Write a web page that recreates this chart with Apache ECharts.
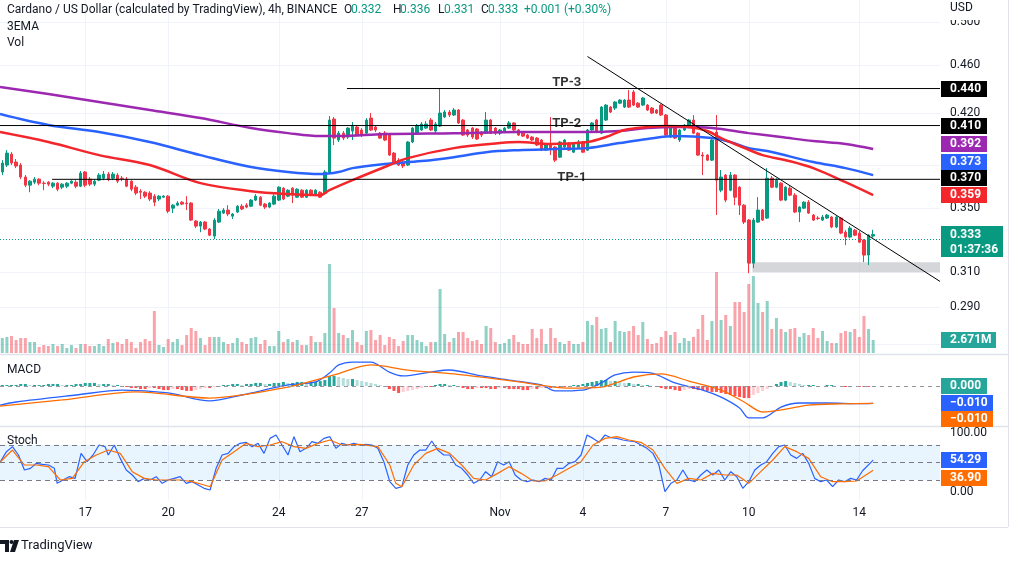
<!DOCTYPE html>
<html><head><meta charset="utf-8">
<script src="https://cdn.jsdelivr.net/npm/echarts@6/dist/echarts.min.js"></script>
<style>html,body{margin:0;padding:0;background:#fff}#c{width:1018px;height:561px}</style>
</head><body><div id="c"></div>
<script>
// ---------- data ----------
const categories = Array.from({length: 204}, (_, i) => i);
const tickIdx  = [18, 36, 60, 78, 108, 126, 144, 162, 186];
const tickText = ['17', '20', '24', '27', 'Nov', '4', '7', '10', '14'];
const priceTicks = [0.5, 0.46, 0.42, 0.38, 0.35, 0.31, 0.29, 0.27];
const stochTicks = [100, 0];
// [open, close, low, high]
const candles = [
[0.3752,0.3817,0.3730,0.3838],[0.3802,0.3890,0.3788,0.3912],[0.3882,0.3817,0.3802,0.3897],[0.3824,0.3795,0.3780,0.3846],
[0.3802,0.3716,0.3701,0.3817],[0.3716,0.3659,0.3645,0.3730],[0.3659,0.3687,0.3610,0.3694],[0.3680,0.3701,0.3666,0.3716],
[0.3701,0.3673,0.3659,0.3708],[0.3673,0.3670,0.3624,0.3687],[0.3680,0.3666,0.3652,0.3687],[0.3652,0.3673,0.3638,0.3680],
[0.3673,0.3631,0.3617,0.3680],[0.3645,0.3666,0.3631,0.3673],[0.3652,0.3673,0.3638,0.3680],[0.3673,0.3687,0.3666,0.3694],
[0.3680,0.3652,0.3638,0.3694],[0.3652,0.3744,0.3645,0.3759],[0.3752,0.3659,0.3645,0.3759],[0.3701,0.3666,0.3652,0.3716],
[0.3666,0.3687,0.3652,0.3701],[0.3694,0.3730,0.3687,0.3744],[0.3708,0.3737,0.3694,0.3759],[0.3737,0.3701,0.3687,0.3752],
[0.3708,0.3737,0.3694,0.3752],[0.3730,0.3687,0.3673,0.3744],[0.3708,0.3706,0.3687,0.3723],[0.3701,0.3652,0.3645,0.3716],
[0.3687,0.3631,0.3617,0.3694],[0.3645,0.3604,0.3590,0.3659],[0.3617,0.3610,0.3563,0.3631],[0.3610,0.3583,0.3570,0.3617],
[0.3604,0.3563,0.3549,0.3617],[0.3583,0.3542,0.3515,0.3597],[0.3563,0.3583,0.3549,0.3590],[0.3576,0.3583,0.3570,0.3590],
[0.3583,0.3482,0.3469,0.3590],[0.3502,0.3522,0.3469,0.3529],[0.3522,0.3536,0.3515,0.3549],[0.3542,0.3529,0.3522,0.3549],
[0.3536,0.3532,0.3489,0.3583],[0.3536,0.3423,0.3417,0.3542],[0.3417,0.3384,0.3371,0.3423],[0.3384,0.3410,0.3345,0.3417],
[0.3410,0.3365,0.3358,0.3417],[0.3365,0.3326,0.3320,0.3371],[0.3320,0.3423,0.3301,0.3436],[0.3410,0.3482,0.3404,0.3496],
[0.3469,0.3489,0.3463,0.3502],[0.3489,0.3463,0.3449,0.3522],[0.3449,0.3463,0.3430,0.3469],[0.3476,0.3515,0.3469,0.3522],
[0.3515,0.3496,0.3489,0.3529],[0.3522,0.3509,0.3502,0.3536],[0.3515,0.3556,0.3509,0.3563],[0.3556,0.3583,0.3549,0.3597],
[0.3576,0.3522,0.3515,0.3583],[0.3529,0.3509,0.3496,0.3536],[0.3509,0.3536,0.3502,0.3542],[0.3529,0.3583,0.3522,0.3597],
[0.3556,0.3645,0.3549,0.3652],[0.3638,0.3563,0.3556,0.3645],[0.3583,0.3624,0.3576,0.3631],[0.3638,0.3590,0.3536,0.3645],
[0.3576,0.3631,0.3570,0.3638],[0.3624,0.3576,0.3570,0.3631],[0.3576,0.3624,0.3570,0.3631],[0.3624,0.3590,0.3583,0.3631],
[0.3590,0.3624,0.3583,0.3631],[0.3610,0.3576,0.3570,0.3617],[0.3604,0.3752,0.3597,0.3766],[0.3744,0.4143,0.3737,0.4175],
[0.4151,0.4003,0.3950,0.4167],[0.3988,0.4041,0.3973,0.4057],[0.4041,0.4003,0.3988,0.4057],[0.4011,0.4080,0.3996,0.4088],
[0.4057,0.4096,0.3988,0.4127],[0.4088,0.4026,0.4018,0.4096],[0.4065,0.4026,0.4011,0.4080],[0.4041,0.4143,0.4034,0.4159],
[0.4159,0.4065,0.4057,0.4199],[0.4088,0.4065,0.4049,0.4096],[0.4041,0.4003,0.3996,0.4049],[0.4041,0.3988,0.3980,0.4057],
[0.4026,0.3875,0.3868,0.4034],[0.3890,0.3817,0.3809,0.3897],[0.3838,0.3802,0.3795,0.3853],[0.3817,0.3795,0.3780,0.3831],
[0.3802,0.3973,0.3795,0.3980],[0.3973,0.4080,0.3965,0.4088],[0.4041,0.4096,0.4034,0.4112],[0.4065,0.4112,0.4057,0.4127],
[0.4080,0.4112,0.4073,0.4135],[0.4143,0.4065,0.4057,0.4159],[0.4057,0.4112,0.4041,0.4127],[0.4096,0.4199,0.4088,0.4404],
[0.4167,0.4207,0.4159,0.4223],[0.4207,0.4183,0.4167,0.4223],[0.4183,0.4223,0.4175,0.4239],[0.4223,0.4120,0.4112,0.4231],
[0.4143,0.4026,0.4018,0.4151],[0.4065,0.4026,0.4011,0.4073],[0.4080,0.4011,0.3996,0.4088],[0.4073,0.3996,0.3988,0.4080],
[0.4049,0.4026,0.4011,0.4057],[0.4041,0.4143,0.4034,0.4207],[0.4143,0.4041,0.4034,0.4151],[0.4080,0.4041,0.4026,0.4088],
[0.4041,0.4065,0.4026,0.4073],[0.4049,0.4080,0.4041,0.4088],[0.4080,0.4120,0.4073,0.4135],[0.4120,0.4065,0.4057,0.4127],
[0.4065,0.4026,0.4018,0.4073],[0.4041,0.4018,0.4011,0.4049],[0.4026,0.4003,0.3996,0.4034],[0.4011,0.3988,0.3980,0.4018],
[0.4003,0.3950,0.3942,0.4011],[0.3988,0.3912,0.3905,0.3996],[0.3912,0.3950,0.3905,0.3958],[0.3950,0.3927,0.3875,0.4167],
[0.3935,0.3838,0.3824,0.3942],[0.3860,0.3973,0.3853,0.3980],[0.3935,0.3988,0.3927,0.3996],[0.3965,0.3912,0.3905,0.3973],
[0.3897,0.3965,0.3890,0.3973],[0.3927,0.3973,0.3920,0.3988],[0.3973,0.3897,0.3890,0.3980],[0.3912,0.4065,0.3905,0.4073],
[0.4065,0.4120,0.4057,0.4127],[0.4143,0.4049,0.4041,0.4151],[0.4041,0.4247,0.4034,0.4255],[0.4143,0.4263,0.4135,0.4271],
[0.4247,0.4207,0.4199,0.4255],[0.4239,0.4288,0.4223,0.4296],[0.4279,0.4304,0.4271,0.4312],[0.4247,0.4304,0.4239,0.4312],
[0.4304,0.4247,0.4239,0.4387],[0.4371,0.4263,0.4255,0.4387],[0.4279,0.4247,0.4239,0.4288],[0.4263,0.4321,0.4255,0.4329],
[0.4263,0.4223,0.4215,0.4271],[0.4239,0.4199,0.4191,0.4247],[0.4223,0.4199,0.4191,0.4231],[0.4263,0.4183,0.4175,0.4271],
[0.4183,0.4026,0.4018,0.4191],[0.4011,0.4088,0.4003,0.4096],[0.4080,0.4003,0.3996,0.4088],[0.3988,0.4065,0.3973,0.4073],
[0.4065,0.4104,0.4057,0.4112],[0.4088,0.4143,0.4080,0.4151],[0.4143,0.4041,0.4034,0.4183],[0.4041,0.3875,0.3868,0.4049],
[0.3875,0.3868,0.3730,0.3897],[0.3875,0.3838,0.3831,0.3882],[0.3838,0.3988,0.3831,0.3996],[0.4049,0.3694,0.3456,0.4183],
[0.3624,0.3716,0.3610,0.3766],[0.3730,0.3556,0.3542,0.3737],[0.3624,0.3730,0.3617,0.3752],[0.3730,0.3576,0.3522,0.3737],
[0.3645,0.3522,0.3456,0.3652],[0.3522,0.3410,0.3397,0.3529],[0.3423,0.3153,0.3093,0.3430],[0.3153,0.3423,0.3123,0.3436],
[0.3410,0.3489,0.3404,0.3576],[0.3489,0.3423,0.3417,0.3496],[0.3436,0.3708,0.3430,0.3780],[0.3708,0.3645,0.3638,0.3723],
[0.3645,0.3694,0.3638,0.3708],[0.3673,0.3556,0.3549,0.3680],[0.3556,0.3645,0.3549,0.3652],[0.3638,0.3590,0.3583,0.3652],
[0.3590,0.3476,0.3469,0.3604],[0.3476,0.3509,0.3410,0.3515],[0.3502,0.3542,0.3496,0.3549],[0.3542,0.3469,0.3463,0.3556],
[0.3456,0.3423,0.3417,0.3463],[0.3436,0.3433,0.3423,0.3449],[0.3423,0.3443,0.3417,0.3456],[0.3436,0.3456,0.3430,0.3463],
[0.3443,0.3378,0.3371,0.3449],[0.3378,0.3443,0.3371,0.3449],[0.3436,0.3339,0.3332,0.3443],[0.3345,0.3314,0.3263,0.3358],
[0.3314,0.3371,0.3307,0.3384],[0.3358,0.3326,0.3320,0.3365],[0.3339,0.3282,0.3276,0.3352],[0.3295,0.3202,0.3159,0.3301],
[0.3202,0.3326,0.3141,0.3332],[0.332,0.333,0.331,0.336]
];
// volume, millions
const volumes = [
3.08,3.29,3.49,2.67,3.08,3.08,2.26,2.26,1.23,1.64,1.44,1.85,1.44,1.85,1.03,1.64,1.03,1.85,1.85,1.44,
1.44,1.85,1.44,2.88,2.06,2.26,1.85,2.88,2.26,1.03,2.26,2.88,2.47,8.63,1.64,1.23,2.88,2.26,2.88,1.64,
3.70,5.14,4.52,3.08,1.64,3.29,3.29,3.29,2.26,1.85,2.06,3.08,2.26,1.85,3.08,3.29,1.85,2.67,1.44,1.44,
4.52,2.26,2.88,2.26,2.67,1.64,1.64,3.49,2.26,2.26,4.11,18.29,9.25,4.11,3.70,3.08,4.73,2.26,1.64,4.52,
4.73,2.67,3.70,1.64,3.29,2.88,1.44,2.47,3.70,3.70,2.67,2.26,1.44,2.26,2.26,13.15,3.90,2.26,3.08,4.32,
4.32,3.08,2.47,2.67,1.85,5.55,5.14,2.26,1.85,2.06,2.88,3.70,2.26,1.85,1.85,4.93,3.08,4.93,1.85,5.14,
3.08,2.26,1.85,2.47,1.85,1.85,2.26,6.58,5.75,7.40,4.93,5.14,2.26,6.58,4.52,4.32,4.52,5.55,3.70,6.37,
2.88,1.85,2.06,3.29,4.52,3.70,4.32,2.06,3.08,2.47,3.29,4.93,7.81,2.67,6.58,16.65,6.78,7.81,5.55,10.48,
10.48,8.43,14.18,15.82,10.28,8.43,10.69,4.93,7.19,4.93,4.32,4.93,5.14,3.29,4.11,3.70,5.14,3.08,4.52,2.47,
2.06,2.06,4.11,4.52,4.32,4.93,3.29,7.60,4.93,2.671
];
// EMA lines [candle index, price]
const emaRed = [[-0.5,0.4049],[10,0.3973],[21,0.3875],[32,0.3802],[43,0.3673],[54,0.3617],[62,0.3597],[69,0.3590],[71,0.3624],[76,0.3694],[83,0.3788],[88,0.3853],[98,0.3927],[108,0.3965],[112,0.3973],[119,0.3958],[127,0.3973],[131,0.4011],[135,0.4065],[140,0.4088],[144,0.4096],[149,0.4088],[153,0.4057],[156,0.4003],[159,0.3958],[162,0.3915],[165,0.3875],[171,0.3830],[176,0.3780],[183,0.3680],[189,0.3590]];
const emaBlue = [[-0.5,0.4191],[10,0.4104],[21,0.4049],[32,0.3973],[43,0.3875],[54,0.3788],[62,0.3752],[69,0.3737],[73,0.3752],[76,0.3780],[83,0.3809],[91,0.3831],[98,0.3860],[105,0.3897],[112,0.3912],[120,0.3920],[127,0.3927],[134,0.3965],[140,0.3996],[146,0.4018],[154,0.4003],[158,0.3973],[162,0.3927],[166,0.3905],[176,0.3824],[183,0.3780],[189,0.3730]];
const emaPurple = [[-0.5,0.4413],[10,0.4354],[21,0.4288],[32,0.4223],[43,0.4159],[54,0.4080],[62,0.4041],[69,0.4018],[73,0.4018],[83,0.4034],[98,0.4041],[112,0.4049],[127,0.4049],[134,0.4057],[140,0.4080],[147,0.4088],[154,0.4080],[162,0.4041],[169,0.4011],[176,0.3980],[183,0.3958],[189,0.3920]];
// target levels
const tpNames  = ['TP-3', 'TP-2', 'TP-1'];
const tpLevels = [0.44, 0.41, 0.37];
const tpStart  = [74.8, -0.5, 10.8];
const tpLabelAt = [[122.5, 0.4446], [122.5, 0.4112], [123.6, 0.3709]];
const trendLine = [[127, 0.4677], [203.5, 0.3045]];
const supportZone = [[162.8, 0.3159], [203.5, 0.3099]];
const lastPrice = 0.333, countdown = '01:37:36';
// MACD
const macdHist = [
0.0006,0.0006,0.0006,0.0006,0.0012,0.0012,0.0006,0.0006,0.0006,0.0006,0.0012,0.0012,0.0012,0.0006,0.0006,0.0006,0.0012,
0.0012,0.0018,0.0018,0.0018,0.0012,0.0012,0.0012,0.0006,0.0006,0,
-0.0006,-0.0012,-0.0012,-0.0018,-0.0018,-0.0012,-0.0012,-0.0018,-0.0024,-0.0024,-0.0018,-0.0018,-0.0024,-0.0029,-0.0029,-0.0024,-0.0018,-0.0012,-0.0012,-0.0006,-0.0006,
0.0006,0.0006,0.0012,0.0012,0.0006,0.0012,0.0012,0.0018,0.0018,0.0012,0.0012,0.0018,0.0018,0.0024,0.0018,0.0018,0.0024,0.0024,0.0018,0.0018,0.0024,
0.0029,0.0035,0.0059,0.0059,0.0053,0.0047,0.0041,
0.0041,0.0035,0.0029,0.0024,0.0018,0.0012,0.0006,
-0.0006,-0.0018,-0.0029,-0.0041,-0.0035,-0.0029,-0.0024,-0.0018,-0.0012,-0.0006,-0.0006,
0.0006,0.0012,0.0012,0.0006,0.0006,
-0.0006,-0.0012,-0.0018,-0.0018,-0.0012,-0.0012,-0.0012,-0.0018,-0.0018,-0.0012,-0.0012,-0.0018,-0.0018,-0.0018,-0.0024,-0.0024,-0.0018,-0.0018,-0.0012,-0.0012,
-0.0012,-0.0006,-0.0006,-0.0006,0,0.0006,0.0006,0.0012,
0.0018,0.0024,0.0029,0.0035,0.0035,0.0029,0.0029,0.0024,0.0018,0.0018,0.0012,
0.0012,0.0006,0.0006,0,
-0.0006,-0.0012,-0.0018,-0.0018,-0.0024,-0.0029,-0.0024,-0.0018,-0.0018,-0.0024,
-0.0024,-0.0029,-0.0035,-0.0035,-0.0041,-0.0047,-0.0053,-0.0059,-0.0065,-0.0071,-0.0071,-0.0053,-0.0041,-0.0029,-0.0018,-0.0006,
0.0012,0.0024,0.0029,0.0024,0.0018,0.0012,
0.0006,0.0006,0.0006,0,0,0.0006,0.0006,0,0,-0.0006,0,0,-0.0006,-0.0006,-0.0006,0
];
const macdLine = [[-0.5,-0.0112],[3,-0.0094],[16,-0.0053],[26,-0.0024],[36,-0.0041],[45,-0.0088],[52,-0.0053],[62,0.0006],[68,0.0024],[71,0.0076],[73,0.0124],[76,0.0141],[80,0.0141],[84,0.0082],[87,0.0059],[93,0.0082],[97,0.0094],[104,0.0059],[110,0.0035],[117,0.0006],[120,-0.0029],[126,-0.0024],[130,0.0018],[133,0.0065],[137,0.0082],[141,0.0076],[146,0.0018],[152,-0.0024],[156,-0.0065],[160,-0.0129],[162,-0.0188],[165,-0.0188],[169,-0.0124],[173,-0.0100],[179,-0.0100],[186,-0.0104],[189,-0.0102]];
const macdSignal = [[-0.5,-0.0118],[13,-0.0082],[29,-0.0035],[45,-0.0071],[62,-0.0006],[72,0.0065],[80,0.0124],[88,0.0094],[98,0.0071],[111,0.0029],[123,-0.0012],[130,-0.0006],[137,0.0053],[143,0.0071],[149,0.0029],[156,-0.0024],[161,-0.0094],[165,-0.0153],[169,-0.0141],[175,-0.0112],[182,-0.0105],[189,-0.0102]];
// Stochastic
const stochK = [[-0.4,51.5],[0.9,68.7],[2.2,77.3],[3.5,63.0],[4.8,37.2],[6.1,40.1],[7.4,48.7],[8.7,46.9],[10.0,45.8],[11.3,40.1],[11.9,14.4],[13.2,20.1],[14.5,25.8],[15.8,22.9],[17.1,65.8],[18.4,51.5],[19.7,63.0],[21.0,80.1],[22.3,77.3],[23.0,63.0],[24.3,80.1],[25.6,57.2],[26.9,37.2],[28.2,28.7],[29.5,17.2],[30.8,22.9],[32.1,20.1],[33.4,25.8],[34.7,14.4],[36.0,20.1],[37.3,22.9],[38.6,25.8],[39.9,14.4],[41.2,17.2],[42.5,11.5],[43.8,5.8],[45.1,2.9],[46.4,40.1],[47.7,63.0],[49.0,65.8],[50.3,77.3],[51.6,83.0],[52.9,84.7],[54.2,77.3],[55.5,83.0],[56.8,65.8],[58.1,91.5],[59.4,97.3],[60.7,80.1],[62.0,63.0],[63.3,94.4],[64.6,68.7],[65.9,74.4],[67.2,85.8],[68.5,83.0],[69.8,91.5],[71.1,94.4],[72.4,74.4],[73.7,83.0],[75.0,80.1],[76.3,83.0],[77.6,80.1],[78.9,81.3],[80.2,80.1],[81.5,74.4],[82.8,51.5],[84.1,17.2],[85.4,5.8],[86.7,8.6],[88.0,45.8],[89.3,63.0],[90.6,71.5],[91.9,71.5],[93.2,87.0],[94.5,71.5],[95.8,63.0],[97.1,63.0],[98.4,45.8],[99.7,40.1],[101.0,28.7],[102.3,14.4],[103.6,20.1],[104.9,34.4],[106.2,25.8],[107.5,51.5],[108.8,45.8],[110.0,51.5],[111.3,28.7],[112.6,20.1],[113.9,17.2],[115.2,20.1],[116.5,17.2],[117.8,22.9],[119.1,20.1],[120.4,40.1],[121.7,40.1],[123.0,48.7],[124.3,51.5],[125.6,63.0],[126.9,97.3],[128.2,91.5],[129.5,84.7],[130.8,97.3],[132.1,92.7],[133.4,91.5],[134.7,88.7],[136.0,87.0],[137.3,85.8],[138.6,80.1],[139.9,74.4],[141.2,65.8],[142.5,45.8],[143.8,0.1],[145.1,14.4],[146.4,20.1],[147.7,37.2],[149.0,20.1],[150.3,17.2],[151.6,28.7],[152.9,37.2],[154.2,28.7],[155.5,37.2],[156.8,20.1],[158.1,34.4],[159.4,25.8],[160.7,5.8],[162.0,17.2],[163.3,37.2],[164.6,45.8],[165.9,51.5],[167.2,65.8],[168.5,77.3],[169.8,80.1],[171.1,63.0],[172.4,57.2],[173.7,65.8],[175.0,48.7],[176.3,22.9],[177.6,17.2],[178.9,20.1],[180.2,8.6],[181.5,20.1],[182.8,17.2],[184.1,22.9],[185.4,20.1],[186.7,36.0],[189,54.29]];
const stochD = [[-0.4,51.5],[2.2,71.5],[4.8,45.8],[7.4,45.8],[10.0,42.9],[12.6,20.1],[15.2,22.9],[17.8,51.5],[20.4,63.0],[23.0,71.5],[25.6,65.8],[28.2,34.4],[30.8,22.9],[33.4,20.1],[36.0,20.1],[38.6,20.1],[41.2,17.2],[43.8,11.5],[45.1,8.6],[47.7,54.4],[50.3,68.7],[52.9,83.0],[55.5,77.3],[58.1,80.1],[60.7,85.8],[63.3,77.3],[65.9,74.4],[68.5,83.0],[71.1,88.7],[73.7,80.1],[77.6,81.3],[81.5,77.3],[84.1,45.8],[85.4,14.4],[86.7,8.6],[89.3,45.8],[91.9,65.8],[94.5,74.4],[97.1,65.8],[99.7,45.8],[102.3,22.9],[104.9,20.1],[107.5,31.5],[110.0,42.9],[112.6,31.5],[115.2,18.4],[117.8,18.4],[120.4,28.7],[123.0,40.1],[125.6,51.5],[128.2,80.1],[130.8,91.5],[133.4,94.4],[136.0,88.7],[138.6,84.7],[141.2,71.5],[143.8,40.1],[146.4,14.4],[149.0,22.9],[151.6,20.1],[154.2,31.5],[156.8,28.7],[159.4,28.7],[162.0,14.4],[164.6,34.4],[167.2,54.4],[169.8,77.3],[172.4,68.7],[175.0,57.2],[177.6,25.8],[180.2,17.2],[182.8,17.2],[185.4,18.4],[189,36.90]];

// ---------- style ----------
const FONT = 'Roboto, "Liberation Sans", Arial, sans-serif';
const GREEN = '#089981', RED = '#f23645';
const VUP = 'rgba(8,153,129,0.45)', VDN = 'rgba(242,54,69,0.45)';
const C_RED = '#f2262b', C_BLUE = '#2962ff', C_PURPLE = '#9c27b0', C_ORANGE = '#ff6d00';
const TXT = '#131722', GRID = '#f0f3fa';

const isUp = i => candles[i] ? candles[i][1] >= candles[i][0] : true;
const volData = volumes.map((v, i) => ({value: v, itemStyle: {color: isUp(i) ? VUP : VDN}}));
const histData = macdHist.map((v, i) => {
  const p = i > 0 ? macdHist[i - 1] : 0;
  let c;
  if (v >= 0) c = v >= p ? '#26a69a' : '#b2dfdb';
  else c = v <= p ? '#ff5252' : '#ffcdd2';
  return {value: v, itemStyle: {color: c}};
});

const lineS = (name, data, color, xi, yi, w, smooth) => ({
  name, type: 'line', data, xAxisIndex: xi, yAxisIndex: yi, symbol: 'none', smooth: smooth,
  lineStyle: {color, width: w}, silent: true, z: 4
});

const series = [
  {type: 'bar', data: volData, xAxisIndex: 2, yAxisIndex: 1, barWidth: 3, silent: true, z: 1},
  {type: 'candlestick', data: candles, xAxisIndex: 0, yAxisIndex: 0, barWidth: 3, z: 3,
   itemStyle: {color: GREEN, color0: RED, borderColor: GREEN, borderColor0: RED, borderWidth: 1},
   markLine: {silent: true, symbol: 'none', label: {show: false},
     lineStyle: {type: [1, 2], color: GREEN, width: 1}, data: [{yAxis: lastPrice}]}},
  lineS('emaPurple', emaPurple, C_PURPLE, 1, 0, 2.5, 0.35),
  lineS('emaBlue', emaBlue, C_BLUE, 1, 0, 2.5, 0.35),
  lineS('emaRed', emaRed, C_RED, 1, 0, 2.5, 0.35),
];
tpLevels.forEach((lv, k) => {
  series.push(lineS(tpNames[k], [[tpStart[k], lv], [203.5, lv]], '#000000', 1, 0, 1, false));
});
series.push(Object.assign(lineS('trend', trendLine, '#000000', 1, 0, 1, false), {
  markArea: {silent: true, itemStyle: {color: 'rgba(190,192,198,0.65)'},
    data: [[{coord: supportZone[0]}, {coord: supportZone[1]}]]}
}));
series.push({type: 'scatter', xAxisIndex: 1, yAxisIndex: 0, symbolSize: 0, silent: true, z: 6,
  data: tpLabelAt.map((p, k) => [p[0], p[1], tpNames[k]]),
  label: {show: true, position: 'inside', formatter: p => p.value[2], color: '#000', fontWeight: 'bold', fontSize: 13, fontFamily: FONT}});
series.push({type: 'bar', data: histData, xAxisIndex: 3, yAxisIndex: 2, barWidth: 3, silent: true, z: 2,
  markLine: {silent: true, symbol: 'none', label: {show: false},
    lineStyle: {type: [4, 4], color: '#9598a1', width: 1}, data: [{yAxis: 0}]}});
series.push(lineS('macd', macdLine, C_BLUE, 4, 2, 1.3, 0.3));
series.push(lineS('signal', macdSignal, C_ORANGE, 4, 2, 1.3, 0.3));
series.push(Object.assign(lineS('k', stochK, C_BLUE, 5, 3, 1.2, false), {
  markArea: {silent: true, itemStyle: {color: 'rgba(33,150,243,0.1)'},
    data: [[{coord: [-0.5, 20]}, {coord: [203.5, 80]}]]},
  markLine: {silent: true, symbol: 'none', label: {show: false},
    lineStyle: {type: [5, 4], color: '#787b86', width: 1}, data: [{yAxis: 80}, {yAxis: 50}, {yAxis: 20}]}
}));
series.push(lineS('d', stochD, C_ORANGE, 5, 3, 1.2, false));

const option = {
  animation: false,
  backgroundColor: '#ffffff',
  textStyle: {fontFamily: FONT},
  grid: [
    {left: 0, right: 78, top: 0, height: 354},
    {left: 0, right: 78, top: 263, height: 90},
    {left: 0, right: 78, top: 356, height: 70},
    {left: 0, right: 78, top: 428, height: 72}
  ],
  xAxis: [
    {type: 'category', gridIndex: 0, data: categories, show: false},
    {type: 'value', gridIndex: 0, min: -0.5, max: 203.5, show: false},
    {type: 'category', gridIndex: 1, data: categories, show: false},
    {type: 'category', gridIndex: 2, data: categories, show: false},
    {type: 'value', gridIndex: 2, min: -0.5, max: 203.5, show: false},
    {type: 'value', gridIndex: 3, min: -0.5, max: 203.5, show: false}
  ],
  yAxis: [
    {type: 'log', gridIndex: 0, min: 0.2651, max: 0.5210, show: false},
    {type: 'value', gridIndex: 1, min: 0, max: 18.5, show: false},
    {type: 'value', gridIndex: 2, min: -0.02353, max: 0.01765, show: false},
    {type: 'value', gridIndex: 3, min: -14.2, max: 109.3, show: false}
  ],
  series
};

const chart = echarts.init(document.getElementById('c'));
chart.setOption(option);

// ---------- decorations placed through the axes ----------
const yP = v => chart.convertToPixel({yAxisIndex: 0}, v);
const yV = v => chart.convertToPixel({yAxisIndex: 1}, v);
const yM = v => chart.convertToPixel({yAxisIndex: 2}, v);
const yS = v => chart.convertToPixel({yAxisIndex: 3}, v);
const xI = i => chart.convertToPixel({xAxisIndex: 1}, i);
const g = [];
const txt = (x, y, text, o, z) => g.push({type: 'text', z: z || 100, silent: true,
  style: Object.assign({x, y, text, fill: TXT, font: '12px ' + FONT, verticalAlign: 'middle', textVerticalAlign: 'middle'}, o || {})});
const hline = (y, x1, x2, color, w, z) => g.push({type: 'line', z: z || 0, silent: true,
  shape: {x1, y1: Math.round(y) + 0.5, x2, y2: Math.round(y) + 0.5}, style: {stroke: color, lineWidth: w || 1}});
const vline = (x, y1, y2, color) => g.push({type: 'line', z: 0, silent: true,
  shape: {x1: Math.round(x) + 0.5, y1, x2: Math.round(x) + 0.5, y2}, style: {stroke: color, lineWidth: 1}});
const box = (cy, text, bg, w) => {
  g.push({type: 'rect', z: 110, silent: true, shape: {x: 941, y: Math.round(cy - 8), width: w || 46, height: 16}, style: {fill: bg}});
  txt(950, cy, text, {fill: '#ffffff', font: 'bold 12px ' + FONT}, 111);
};

// grid lines
priceTicks.forEach(v => hline(yP(v), 0, 940, GRID, 1, 0));
tickIdx.forEach(i => vline(xI(i), 0, 500, GRID));
// pane separators and borders
hline(354, 0, 1008, '#e0e3eb', 1.5, 50);
hline(426, 0, 1008, '#e0e3eb', 1.5, 50);
hline(527, 0, 1008, '#e0e3eb', 1, 50);
vline(1008, 0, 527, '#e0e3eb');

// axis labels
priceTicks.forEach(v => txt(950, yP(v), v.toFixed(3)));
g.push({type: 'rect', z: 105, silent: true, shape: {x: 941, y: 0, width: 66, height: 20}, style: {fill: '#ffffff'}});
txt(950, 8, 'USD', {}, 106);
stochTicks.forEach(v => txt(950, yS(v), v.toFixed(2)));
tickIdx.forEach((i, k) => txt(xI(i), 513, tickText[k], {align: 'center', textAlign: 'center'}));

// legends / header
txt(7, 10, 'Cardano / US Dollar (calculated by TradingView), 4h, BINANCE');
const ohlc = candles[candles.length - 1];
const hdr = [[344, 'O', TXT], [351, ohlc[0].toFixed(3), GREEN], [393, 'H', TXT], [400, ohlc[3].toFixed(3), GREEN],
             [438, 'L', TXT], [444, ohlc[2].toFixed(3), GREEN], [481, 'C', TXT], [488, ohlc[1].toFixed(3), GREEN],
             [524, '+0.001 (+0.30%)', GREEN]];
hdr.forEach(h => txt(h[0], 10, h[1], {fill: h[2]}));
txt(7, 27, '3EMA');
txt(7, 43, 'Vol');
txt(7, 370, 'MACD');
txt(7, 441, 'Stoch');

// right-hand value boxes
const last = a => a[a.length - 1][1];
box(yP(tpLevels[0]), tpLevels[0].toFixed(3), '#000000');
box(yP(tpLevels[1]), tpLevels[1].toFixed(3), '#000000');
box(yP(last(emaPurple)) - 5, last(emaPurple).toFixed(3), C_PURPLE);
box(yP(last(emaBlue)) - 13, last(emaBlue).toFixed(3), C_BLUE);
box(yP(tpLevels[2]) - 1, tpLevels[2].toFixed(3), '#000000');
box(yP(last(emaRed)), last(emaRed).toFixed(3), C_RED);
// current price box (two lines)
const cpY = yP(lastPrice);
g.push({type: 'rect', z: 110, silent: true, shape: {x: 941, y: Math.round(cpY - 8.5), width: 62, height: 31}, style: {fill: GREEN}});
txt(950, cpY, lastPrice.toFixed(3), {fill: '#fff', font: 'bold 12px ' + FONT}, 111);
txt(950, cpY + 15, countdown, {fill: '#fff', font: 'bold 12px ' + FONT}, 111);
const lv = volumes[volumes.length - 1];
box(yV(lv), lv.toFixed(3) + 'M', '#26a69a', 55);
box(yM(macdHist[macdHist.length - 1]), macdHist[macdHist.length - 1].toFixed(3), '#26a69a');
box(yM(last(macdLine)), last(macdLine).toFixed(3).replace('-', '\u2212'), C_BLUE, 52);
box(yM(last(macdSignal)) + 16, last(macdSignal).toFixed(3).replace('-', '\u2212'), C_ORANGE, 52);
box(yS(last(stochK)), last(stochK).toFixed(2), C_BLUE);
box(yS(last(stochD)) + 8, last(stochD).toFixed(2), C_ORANGE);

// TradingView mark
g.push({type: 'polygon', z: 100, silent: true, shape: {points: [[0,540],[9,540],[9,552],[5,552],[5,544],[0,544]]}, style: {fill: TXT}});
g.push({type: 'circle', z: 100, silent: true, shape: {cx: 11.5, cy: 542, r: 2}, style: {fill: TXT}});
g.push({type: 'polygon', z: 100, silent: true, shape: {points: [[14,540],[19,540],[15,552],[10,552]]}, style: {fill: TXT}});
txt(21, 546, 'TradingView', {font: '13px ' + FONT});

chart.setOption({graphic: {elements: g}});
</script>
</body></html>
